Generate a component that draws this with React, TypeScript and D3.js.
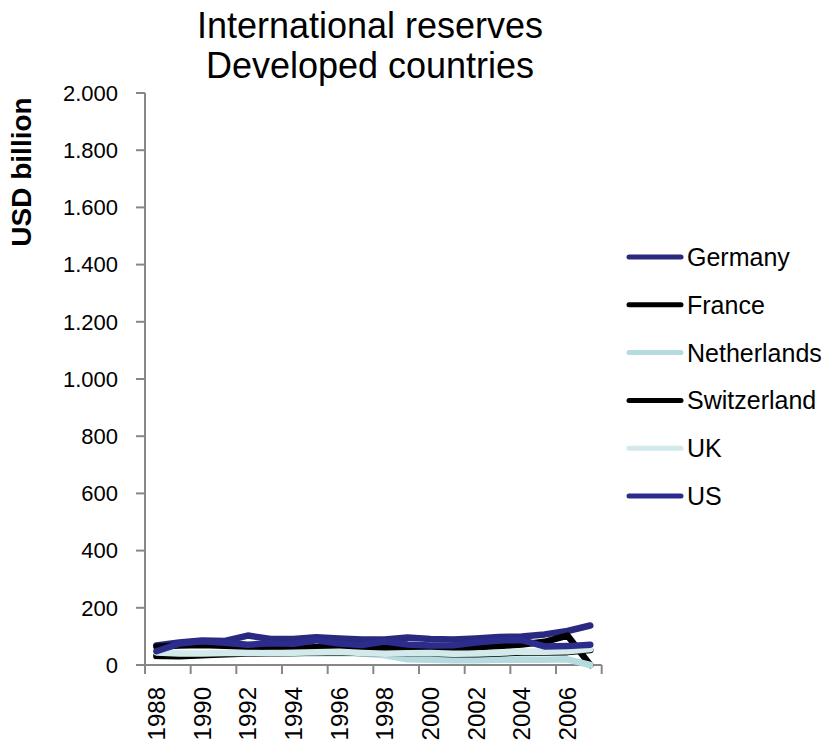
import React from "react";
import * as d3 from "d3";

const years = [1988, 1989, 1990, 1991, 1992, 1993, 1994, 1995, 1996, 1997, 1998, 1999, 2000, 2001, 2002, 2003, 2004, 2005, 2006, 2007];
const germany = [68, 79, 86, 84, 103, 91, 91, 97, 93, 89, 89, 96, 91, 89, 93, 98, 100, 107, 119, 138];
const france = [64, 68, 70, 67, 64, 62, 60, 62, 63, 60, 62, 58, 58, 58, 62, 66, 72, 81, 103, 0];
const netherlands = [30, 32, 36, 38, 40, 42, 40, 40, 42, 40, 34, 20, 18, 17, 17, 18, 19, 18, 20, 0];
const switzerland = [32, 31, 34, 38, 40, 40, 42, 44, 45, 42, 40, 40, 40, 38, 38, 40, 44, 44, 45, 52];
const uk = [44, 40, 40, 42, 42, 41, 43, 45, 46, 42, 39, 41, 42, 39, 40, 43, 47, 46, 48, 56];
const us = [48, 75, 83, 78, 71, 76, 74, 86, 75, 70, 82, 72, 68, 69, 79, 86, 87, 65, 66, 71];

const seriesNames = ["Germany", "France", "Netherlands", "Switzerland", "UK", "US"];
const seriesValues = [germany, france, netherlands, switzerland, uk, us];
const seriesColors = ["#29297f", "#000000", "#b4dce0", "#000000", "#d3eaea", "#2c2c8c"];

const yTicks = [0, 200, 400, 600, 800, 1000, 1200, 1400, 1600, 1800, 2000];
const xLabelYears = [1988, 1990, 1992, 1994, 1996, 1998, 2000, 2002, 2004, 2006];

const titleLines = ["International reserves", "Developed countries"];
const yAxisTitle = "USD billion";

const FONT = "'Liberation Sans', Arial, sans-serif";

export default function App() {
  const left = 145, right = 601.7, top = 93, bottom = 665;
  const x = d3.scaleBand<number>().domain(years).range([left, right]).padding(0);
  const y = d3.scaleLinear().domain([0, 2000]).range([bottom, top]);
  const fmt = (v: number) => d3.format(",")(v).replace(/,/g, ".");
  const line = d3.line<number>()
    .x((_, i) => (x(years[i]) as number) + x.bandwidth() / 2)
    .y((d) => y(d));
  const axisColor = "#878787";
  const tickBoundaries = d3.range(0, years.length + 1, 2).map((i) => left + i * x.bandwidth());

  return (
    <svg width={827} height={750} style={{ position: "absolute", left: 0, top: 0, background: "#fff" }} fontFamily={FONT}>
      {titleLines.map((t, i) => (
        <text key={t} x={370} y={38 + i * 40} textAnchor="middle" fontSize={36} fill="#000">{t}</text>
      ))}
      <text transform={`translate(31,172) rotate(-90)`} textAnchor="middle" fontSize={28} fontWeight="bold" fill="#000">{yAxisTitle}</text>

      {/* y axis */}
      <line x1={left} x2={left} y1={top} y2={bottom} stroke={axisColor} strokeWidth={2} />
      {yTicks.map((t) => (
        <g key={t}>
          <line x1={left - 9} x2={left} y1={y(t)} y2={y(t)} stroke={axisColor} strokeWidth={2} />
          <text x={118} y={y(t)} dy="0.35em" textAnchor="end" fontSize={22} fill="#000">{fmt(t)}</text>
        </g>
      ))}

      {/* x axis */}
      <line x1={left - 9} x2={right} y1={bottom} y2={bottom} stroke={axisColor} strokeWidth={2} />
      {tickBoundaries.map((bx, i) => (
        <line key={i} x1={bx} x2={bx} y1={bottom} y2={bottom + 9} stroke={axisColor} strokeWidth={2} />
      ))}
      {xLabelYears.map((yr) => {
        const cx = (x(yr) as number) + x.bandwidth() / 2;
        return (
          <text key={yr} transform={`translate(${cx},687) rotate(-90)`} dy="0.36em" textAnchor="end" fontSize={24} fill="#000">{yr}</text>
        );
      })}

      {/* series */}
      {seriesValues.map((vals, i) => (
        <path key={seriesNames[i]} d={line(vals) || ""} fill="none" stroke={seriesColors[i]} strokeWidth={6.5} strokeLinejoin="round" strokeLinecap="round" />
      ))}

      {/* legend */}
      {seriesNames.map((n, i) => {
        const ly = 257 + i * 47.8;
        return (
          <g key={n}>
            <line x1={629} x2={681} y1={ly} y2={ly} stroke={seriesColors[i]} strokeWidth={5} strokeLinecap="round" />
            <text x={687} y={ly} dy="0.36em" fontSize={25} fill="#000">{n}</text>
          </g>
        );
      })}
    </svg>
  );
}
